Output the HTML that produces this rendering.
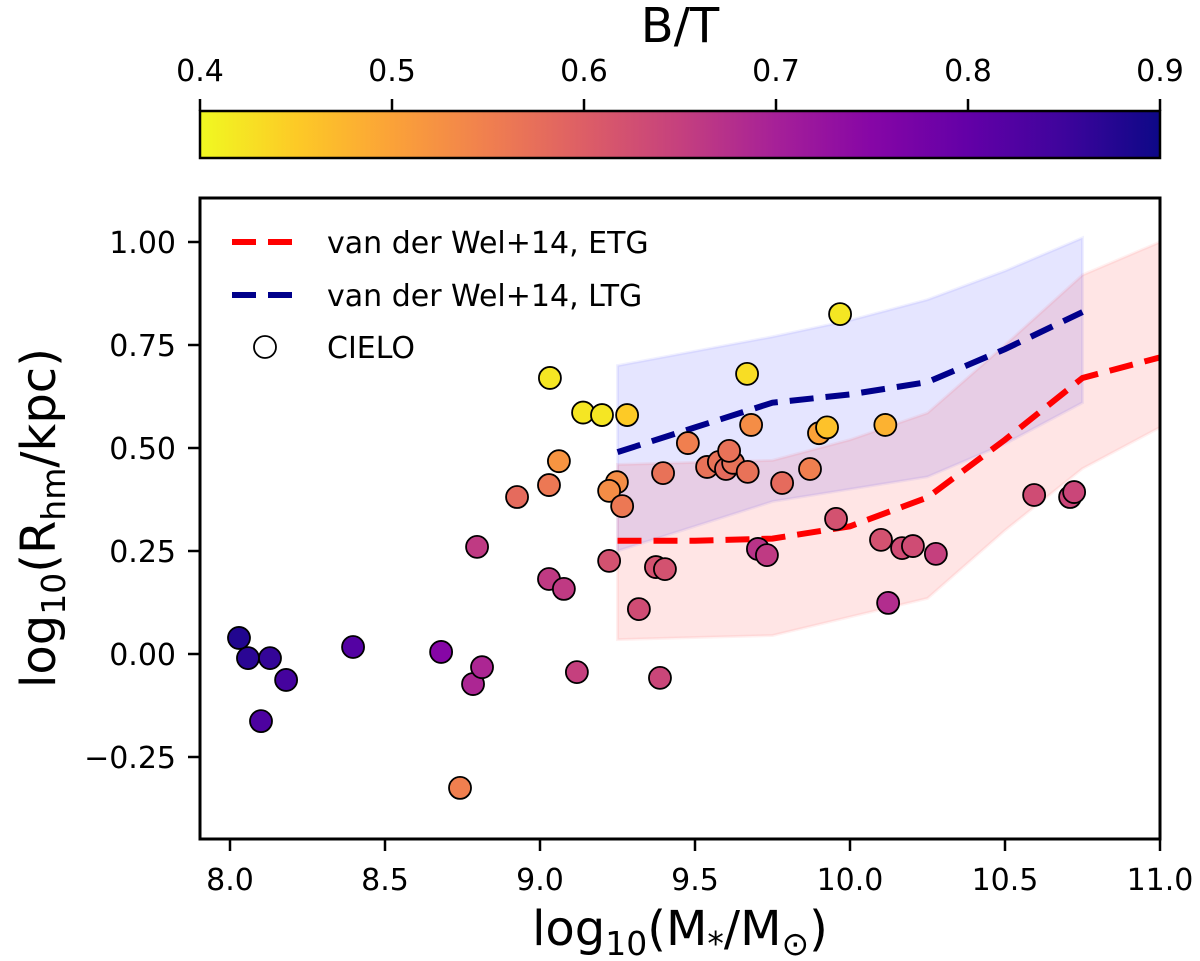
<!DOCTYPE html>
<html><head><meta charset="utf-8"><style>
html,body{margin:0;padding:0;background:#fff;}
svg{display:block;font-family:"DejaVu Sans","Liberation Sans",sans-serif;}
</style></head><body>
<svg id="chart" width="1200" height="961" viewBox="0 0 1200 961">
<defs>
<linearGradient id="plasma" x1="0" x2="1" y1="0" y2="0">
<stop offset="0" stop-color="#f0f921"/>
<stop offset="0.1" stop-color="#fdca26"/>
<stop offset="0.2" stop-color="#fba238"/>
<stop offset="0.3" stop-color="#f07f4f"/>
<stop offset="0.4" stop-color="#dd5e66"/>
<stop offset="0.5" stop-color="#c5407e"/>
<stop offset="0.6" stop-color="#a62098"/>
<stop offset="0.7" stop-color="#8606a6"/>
<stop offset="0.8" stop-color="#6300a7"/>
<stop offset="0.9" stop-color="#3e049c"/>
<stop offset="1" stop-color="#0d0887"/>
</linearGradient>
<clipPath id="clip"><rect x="200" y="198" width="960" height="641"/></clipPath>
</defs>
<g id="cbar"></g>
<g id="plot"></g>
</svg>
<script>
const ptX=[8.029,8.058,8.129,8.181,8.100,8.397,8.681,8.784,8.813,8.742,8.797,8.926,9.029,9.061,9.032,9.029,9.077,9.139,9.200,9.281,9.248,9.223,9.265,9.223,9.119,9.319,9.374,9.403,9.387,9.397,9.477,9.539,9.577,9.600,9.623,9.670,9.668,9.681,9.781,9.871,9.968,9.900,9.955,9.926,10.10,10.114,10.168,10.203,10.277,10.123,10.594,10.71,10.723,9.703,9.732,9.61];
const ptY=[0.039,-0.010,-0.010,-0.063,-0.163,0.017,0.005,-0.073,-0.032,-0.325,0.260,0.381,0.410,0.468,0.670,0.182,0.158,0.586,0.580,0.580,0.417,0.396,0.359,0.226,-0.044,0.109,0.211,0.206,-0.058,0.439,0.512,0.454,0.466,0.449,0.464,0.442,0.680,0.556,0.415,0.449,0.825,0.536,0.328,0.550,0.277,0.556,0.257,0.262,0.243,0.124,0.386,0.381,0.393,0.255,0.240,0.493];
const ptBT=[0.88,0.87,0.86,0.84,0.83,0.82,0.75,0.69,0.69,0.55,0.66,0.58,0.56,0.52,0.42,0.66,0.66,0.42,0.42,0.45,0.53,0.53,0.56,0.62,0.65,0.63,0.62,0.62,0.64,0.57,0.55,0.57,0.57,0.58,0.57,0.57,0.43,0.53,0.58,0.55,0.42,0.50,0.62,0.46,0.62,0.48,0.63,0.63,0.65,0.68,0.63,0.64,0.64,0.67,0.66,0.57];
const etgX=[9.25,9.5,9.75,10.0,10.25,10.5,10.75,11.0];
const etgY=[0.275,0.275,0.28,0.31,0.38,0.52,0.67,0.72];
const etgLo=[0.035,0.04,0.045,0.09,0.135,0.30,0.45,0.55];
const etgHi=[0.46,0.465,0.47,0.52,0.585,0.75,0.92,1.00];
const ltgX=[9.25,9.5,9.75,10.0,10.25,10.5,10.75];
const ltgY=[0.49,0.55,0.61,0.63,0.66,0.74,0.83];
const ltgLo=[0.25,0.31,0.37,0.40,0.43,0.51,0.61];
const ltgHi=[0.70,0.735,0.77,0.81,0.86,0.93,1.01];
const xTicks=[8.0,8.5,9.0,9.5,10.0,10.5,11.0];
const yTicks=[1.0,0.75,0.5,0.25,0.0,-0.25];
const cTicks=[0.4,0.5,0.6,0.7,0.8,0.9];

const NS="http://www.w3.org/2000/svg";
const X=v=>230+(v-8)*310;
const Y=v=>654-v*412;
const C=v=>200+(v-0.4)/0.5*960;
function mk(tag,attrs,parent,text){const e=document.createElementNS(NS,tag);for(const k in attrs)e.setAttribute(k,attrs[k]);if(text!==undefined)e.textContent=text;parent.appendChild(e);return e;}
const stops=[[0,[240,249,33]],[0.1,[253,202,38]],[0.2,[251,162,56]],[0.3,[240,127,79]],[0.4,[221,94,102]],[0.5,[197,64,126]],[0.6,[166,32,152]],[0.7,[134,6,166]],[0.8,[99,0,167]],[0.9,[62,4,156]],[1,[13,8,135]]];
function cmap(bt){let t=Math.max(0,Math.min(1,(bt-0.4)/0.5));for(let i=1;i<stops.length;i++){if(t<=stops[i][0]){const a=stops[i-1],b=stops[i];const f=(t-a[0])/(b[0]-a[0]);const c=a[1].map((v,j)=>Math.round(v+(b[1][j]-v)*f));return `rgb(${c})`;}}return 'rgb(13,8,135)';}

const cb=document.getElementById('cbar');
let e=mk('text',{x:680,y:42,'font-size':48,'text-anchor':'middle'},cb,'B/T');


e=mk('rect',{x:200,y:111,width:960,height:47,fill:'url(#plasma)',stroke:'#000','stroke-width':2.5},cb);


cTicks.forEach(t=>{
  mk('line',{x1:C(t),x2:C(t),y1:99,y2:111,stroke:'#000','stroke-width':2.5},cb);
  const l=mk('text',{x:C(t),y:81,'font-size':30,'text-anchor':'middle'},cb,t.toFixed(1));
  
  
});

const p=document.getElementById('plot');
const g=mk('g',{'clip-path':'url(#clip)'},p);
function band(xs,lo,hi,fill,name){
  let d='M'+xs.map((x,i)=>X(x)+','+Y(hi[i])).join('L');
  for(let i=xs.length-1;i>=0;i--)d+='L'+X(xs[i])+','+Y(lo[i]);
  const b=mk('path',{d:d+'Z',fill:fill,'fill-opacity':0.1,stroke:fill,'stroke-opacity':0.06,'stroke-width':3},g);
  
  
}
band(ltgX,ltgLo,ltgHi,'#0000ff','ltg-band');
band(etgX,etgLo,etgHi,'#ff0000','etg-band');
function line(xs,ys,col,name){
  const l=mk('polyline',{points:xs.map((x,i)=>X(x)+','+Y(ys[i])).join(' '),fill:'none',stroke:col,'stroke-width':6,'stroke-dasharray':'24,12'},g);
  
  
}
line(etgX,etgY,'#ff0000','etg-line');
line(ltgX,ltgY,'#00008b','ltg-line');
ptX.forEach((x,i)=>{
  const c=mk('circle',{cx:X(x),cy:Y(ptY[i]),r:11,fill:cmap(ptBT[i]),stroke:'#000','stroke-width':1.8},g);
  
  
});
e=mk('rect',{x:200,y:198,width:960,height:641,fill:'none',stroke:'#000','stroke-width':3},p);


xTicks.forEach(t=>{
  mk('line',{x1:X(t),x2:X(t),y1:839,y2:851,stroke:'#000','stroke-width':2.5},p);
  const l=mk('text',{x:X(t),y:890,'font-size':30,'text-anchor':'middle'},p,t.toFixed(1));
  
  
});
yTicks.forEach(t=>{
  mk('line',{x1:188,x2:200,y1:Y(t),y2:Y(t),stroke:'#000','stroke-width':2.5},p);
  const l=mk('text',{x:176,y:Y(t)+11,'font-size':30,'text-anchor':'end'},p,(t<0?'\u2212':'')+Math.abs(t).toFixed(2));
  
  
});
e=mk('text',{x:680,y:945,'font-size':48,'text-anchor':'middle'},p);
e.innerHTML='log<tspan font-size="33" dy="10">10</tspan><tspan dy="-10">(M</tspan><tspan font-size="33" dy="10">*</tspan><tspan dy="-10">/M</tspan><tspan font-size="33" dy="10">\u2299</tspan><tspan dy="-10">)</tspan>';


e=mk('text',{x:0,y:0,'font-size':48,'text-anchor':'middle',transform:'translate(55,518) rotate(-90)'},p);
e.innerHTML='log<tspan font-size="33" dy="10">10</tspan><tspan dy="-10">(R</tspan><tspan font-size="33" dy="10">hm</tspan><tspan dy="-10">/kpc)</tspan>';


const lg=mk('g',{},p);


mk('line',{x1:232,x2:300,y1:242,y2:242,stroke:'#ff0000','stroke-width':6,'stroke-dasharray':'24,12'},lg);
e=mk('text',{x:327,y:253,'font-size':30},lg,'van der Wel+14, ETG');


mk('line',{x1:232,x2:300,y1:295,y2:295,stroke:'#00008b','stroke-width':6,'stroke-dasharray':'24,12'},lg);
e=mk('text',{x:327,y:306,'font-size':30},lg,'van der Wel+14, LTG');


mk('circle',{cx:265,cy:347,r:11,fill:'#fff',stroke:'#000','stroke-width':1.8},lg);
e=mk('text',{x:327,y:358,'font-size':30},lg,'CIELO');


</script>
</body></html>
